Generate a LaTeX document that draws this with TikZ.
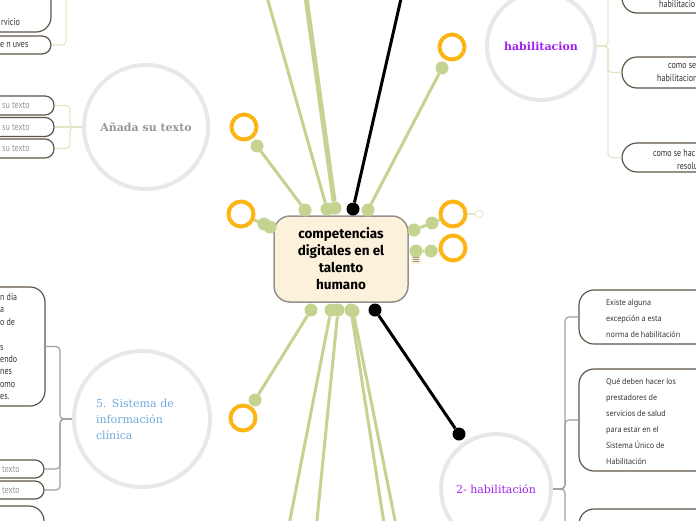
\documentclass[tikz,border=0pt]{standalone}
\usepackage{fontspec}
\setmainfont{PT Sans}
\newfontfamily\boxfont[FakeStretch=0.8]{PT Sans}
\newfontfamily\topicfont{DejaVu Serif}
\newfontfamily\rootfont{Fira Sans}
\newfontfamily\handfont[FakeStretch=0.9]{Noto Sans}
\usetikzlibrary{positioning}
\definecolor{lgreen}{RGB}{196,211,143}
\definecolor{ringc}{RGB}{253,181,21}
\definecolor{circgray}{RGB}{232,232,232}
\definecolor{boxline}{RGB}{94,85,72}
\definecolor{conn}{RGB}{226,232,196}
\definecolor{rootfill}{RGB}{252,241,218}
\definecolor{rootline}{RGB}{150,145,140}
\definecolor{purp}{RGB}{160,32,240}
\definecolor{bluet}{RGB}{111,168,220}
\definecolor{txtgray}{RGB}{150,150,150}
\definecolor{txtdark}{RGB}{55,50,45}

\begin{document}
\begin{tikzpicture}[
    x=1pt, y=-1pt,
    gline/.style={draw=lgreen, line width=3pt},
    bline/.style={draw=black, line width=3pt},
    dot/.style={circle, fill=lgreen, inner sep=0pt, minimum size=13pt},
    bdot/.style={circle, fill=black, inner sep=0pt, minimum size=13pt},
    ring/.style={circle, draw=ringc, line width=4pt, inner sep=0pt, minimum size=25pt},
    root/.style={rectangle, draw=rootline, fill=rootfill, line width=1.5pt, rounded corners=16pt,
      minimum width=134pt, minimum height=86pt, align=center, font=\rootfont\bfseries\fontsize{13.5}{17}\selectfont},
    topic/.style={circle, draw=circgray, line width=4pt, inner sep=0pt, align=center, font=\topicfont\fontsize{11}{16}\selectfont},
    tbox/.style={rectangle, draw=boxline, fill=white, line width=1.2pt, rounded corners=9pt, inner sep=0pt},
    bigbox/.style={tbox, rounded corners=15pt},
    btext/.style={anchor=west, inner sep=0pt, text=txtdark, align=left, font=\boxfont\fontsize{10}{12.4}\selectfont},
    gtext/.style={btext, text=txtgray},
    htext/.style={anchor=west, inner sep=0pt, text=txtdark, align=left, font=\handfont\fontsize{8}{16}\selectfont},
    lconn/.style={draw=conn, line width=1.2pt, rounded corners=4pt},
    dconn/.style={draw=gray!75, line width=1.2pt, rounded corners=4pt},
  ]
  \useasboundingbox (0,0) rectangle (696,520);
  \clip (0,0) rectangle (696,520);

  \node[root] (root) at (341,259) {competencias\\digitales en el\\talento\\humano};
  \node[fill=rootfill, inner sep=1.5pt, font=\fontsize{10}{10}\selectfont] (menu) at (416,260) {$\equiv$};

  \node[dot]  (tA) at (305,210) {};
  \node[dot]  (tB) at (327,209) {};
  \node[dot]  (tC) at (335,208) {};
  \node[bdot] (tD) at (353,209) {};
  \node[dot]  (tE) at (368,210) {};
  \node[dot]  (lA) at (264,224) {};
  \node[dot]  (lB) at (270,227) {};
  \node[dot]  (rA) at (414,230) {};
  \node[dot]  (rB) at (432,223) {};
  \node[dot]  (rC) at (416,251) {};
  \node[dot]  (rD) at (431,251) {};
  \node[dot]  (bA) at (311,310) {};
  \node[dot]  (bB) at (331,310) {};
  \node[dot]  (bC) at (338,310) {};
  \node[dot]  (bD) at (351,310) {};
  \node[dot]  (bE) at (353,311) {};
  \node[bdot] (bF) at (375,310) {};

  \node[dot]  (oTL) at (257,146) {};
  \node[dot]  (oTR) at (442,68) {};
  \node[dot]  (oBL) at (255,400) {};
  \node[bdot] (oBR) at (459,434) {};

  \node[ring] (rgTL) at (244,127) {};
  \node[ring] (rgTR) at (452,47) {};
  \node[ring] (rgL)  at (241,214) {};
  \node[ring] (rgR1) at (453,214) {};
  \node[ring] (rgR2) at (453,248) {};
  \node[ring] (rgBL) at (243,418) {};
  \node[circle, draw=conn, line width=0.8pt, minimum size=8pt, inner sep=0pt] (cnt) at (479,214) {};

  \coordinate (endB)  at (265,-10);
  \coordinate (endC)  at (305,-10);
  \coordinate (endD)  at (403,-10);
  \coordinate (endBB) at (288,530);
  \coordinate (endBC) at (316,530);
  \coordinate (endBD) at (385,530);
  \coordinate (endBE) at (397,530);

  \draw[gline] (tA) -- (oTL);
  \draw[gline] (tB) -- (endB);
  \draw[gline, line width=5pt] (tC) -- (endC);
  \draw[bline] (tD) -- (endD);
  \draw[gline] (tE) -- (oTR);
  \draw[gline] (lB) -- (rgL);
  \draw[gline] (rA) -- (rB) -- (rgR1);
  \draw[lconn] (rgR1) -- (cnt);
  \draw[gline] (rC) -- (rD) -- (rgR2);
  \draw[gline] (bA) -- (oBL);
  \draw[gline] (bB) -- (endBB);
  \draw[gline] (bC) -- (endBC);
  \draw[gline] (bD) -- (endBD);
  \draw[gline] (bE) -- (endBE);
  \draw[bline] (bF) -- (oBR);

  \node[topic, minimum size=124pt, text=txtgray, font=\topicfont\bfseries\fontsize{11}{16}\selectfont] (addc) at (146,127) {Añada su texto};
  \node[topic, minimum size=108pt, text=purp, font=\topicfont\bfseries\fontsize{11}{16}\selectfont] (habc) at (541,46) {habilitacion};
  \node[topic, minimum size=136pt, text=bluet, text width=92pt, align=left] (sysc) at (142,419) {5. Sistema de\\información\\clínica};
  \node[topic, minimum size=110pt, text=purp] (hab2c) at (496,489) {2- habilitación};

  \node[bigbox, minimum width=91pt, minimum height=72pt] (tb1) at (5.5,-4) {};
  \node[btext] (tb1t) at (1,22) {rvicio};
  \node[tbox, minimum width=91pt, minimum height=18pt] (tb2) at (5.5,45) {};
  \node[btext] (tb2t) at (0,45) {e n uves};
  \coordinate (vtop) at (66,-10);
  \draw[lconn] (vtop) |- (tb1.east);
  \draw[lconn] (vtop) |- (tb2.east);

  \node[tbox, minimum width=94pt, minimum height=19pt] (s1) at (7,105.5) {};
  \node[tbox, minimum width=94pt, minimum height=19pt] (s2) at (7,127) {};
  \node[tbox, minimum width=94pt, minimum height=19pt] (s3) at (7,148.5) {};
  \node[gtext] (s1t) at (2,105.5) {su texto};
  \node[gtext] (s2t) at (2,127) {su texto};
  \node[gtext] (s3t) at (2,148.5) {su texto};
  \draw[lconn] (addc.west) -- ++(-12,0) |- (s1.east);
  \draw[lconn] (addc.west) -- (s2.east);
  \draw[lconn] (addc.west) -- ++(-12,0) |- (s3.east);

  \node[bigbox, minimum width=105pt, minimum height=119pt] (m1) at (-7.5,346.5) {};
  \node[btext] (m1t) at (0,346.6) {n día\\a\\o de\\\mbox{}\\s\\endo\\nes\\omo\\es.};
  \node[tbox, minimum width=84pt, minimum height=18pt] (t1) at (2,469) {};
  \node[tbox, minimum width=84pt, minimum height=18pt] (t2) at (2,490) {};
  \node[gtext] (t1t) at (2,469) {texto};
  \node[gtext] (t2t) at (2,490.5) {texto};
  \node[bigbox, minimum width=104pt, minimum height=54pt] (m3) at (-8,533) {};
  \draw[dconn] (sysc.west) -- ++(-12,0) |- (m1.east);
  \draw[dconn] (sysc.west) -- ++(-12,0) |- (t1.east);
  \draw[dconn] (sysc.west) -- ++(-12,0) |- (t2.east);

  \node[bigbox, minimum width=138pt, minimum height=43pt] (hb1) at (691,-8.5) {};
  \node[bigbox, minimum width=138pt, minimum height=31pt] (hb2) at (691,72.5) {};
  \node[bigbox, minimum width=138pt, minimum height=29pt] (hb3) at (691,157.5) {};
  \node[btext] (hb1t) at (659,4) {habilitacio};
  \node[btext] (hb2a) at (668,66) {como se};
  \node[btext] (hb2b) at (657,78) {habilitacion};
  \node[btext] (hb3a) at (653,153) {como se hac};
  \node[btext] (hb3b) at (677,166) {resolu};
  \draw[lconn] (habc.east) -- ++(11,0) |- (hb1.west);
  \draw[lconn] (habc.east) -- ++(11,0) |- (hb2.west);
  \draw[lconn] (habc.east) -- ++(11,0) |- (hb3.west);

  \node[bigbox, minimum width=181pt, minimum height=54pt] (e1) at (669.5,317) {};
  \node[bigbox, minimum width=181pt, minimum height=102pt] (e2) at (669.5,420) {};
  \node[bigbox, minimum width=181pt, minimum height=61pt] (e3) at (669.5,539.5) {};
  \node[htext] (e1t) at (606,318) {Existe alguna\\excepción a esta\\norma de habilitación};
  \node[htext] (e2t) at (606,421) {Qué deben hacer los\\prestadores de\\servicios de salud\\para estar en el\\Sistema Único de\\Habilitación};
  \draw[dconn] (hab2c.east) -- ++(12,0) |- (e1.west);
  \draw[dconn] (hab2c.east) -- ++(12,0) |- (e2.west);
  \draw[dconn] (hab2c.east) -- ++(12,0) |- (e3.west);
\end{tikzpicture}
\end{document}
